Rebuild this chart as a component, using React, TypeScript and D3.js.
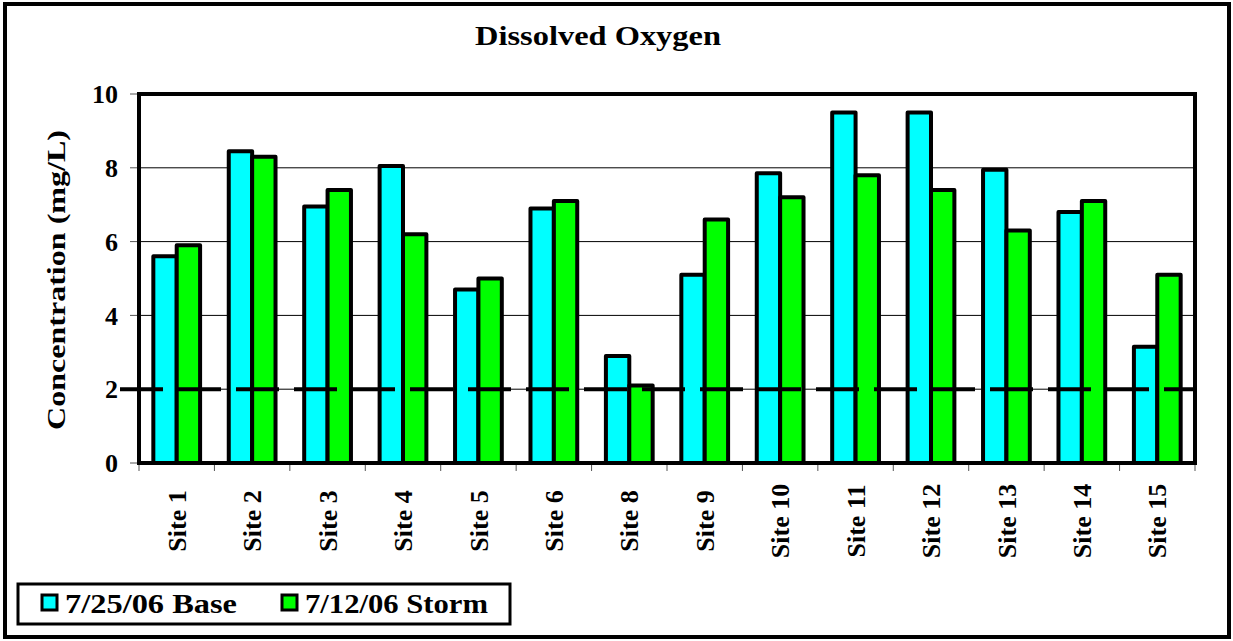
import * as d3 from "d3";
import { useRef, useEffect } from "react";

const sites = ["Site 1", "Site 2", "Site 3", "Site 4", "Site 5", "Site 6", "Site 8", "Site 9", "Site 10", "Site 11", "Site 12", "Site 13", "Site 14", "Site 15"];
const baseValues = [5.6, 8.45, 6.95, 8.05, 4.7, 6.9, 2.9, 5.1, 7.85, 9.5, 9.5, 7.95, 6.8, 3.15];
const stormValues = [5.9, 8.3, 7.4, 6.2, 5.0, 7.1, 2.1, 6.6, 7.2, 7.8, 7.4, 6.3, 7.1, 5.1];
const seriesNames = ["7/25/06 Base", "7/12/06 Storm"];
const seriesColors = ["#00ffff", "#00ff00"];
const yTicks = [0, 2, 4, 6, 8, 10];
const standard = 2;

const W = 1233;
const H = 641;

const App = () => {
    const chartRef = useRef(null);

    useEffect(() => {
        const svg = d3.select(chartRef.current);
        svg.selectAll("*").remove();

        const margin = { top: 94, bottom: 178, left: 139, right: 38 };
        const boundWidth = W - margin.left - margin.right;
        const boundHeight = H - margin.top - margin.bottom;

        // outer frame
        svg.append("rect")
           .attr("x", 5).attr("y", 4)
           .attr("width", W - 9).attr("height", H - 8)
           .attr("fill", "white")
           .attr("stroke", "black")
           .attr("stroke-width", 4);

        svg.append("text")
           .attr("x", 598).attr("y", 45)
           .attr("text-anchor", "middle")
           .attr("font-weight", "bold")
           .attr("font-size", 27)
           .attr("textLength", 246)
           .attr("lengthAdjust", "spacingAndGlyphs")
           .text("Dissolved Oxygen");

        const scaleX = d3.scaleBand()
                         .domain(sites)
                         .range([0, boundWidth]);
        const scaleY = d3.scaleLinear()
                         .domain([0, 10])
                         .range([boundHeight, 0]);

        const g = svg.append("g")
                     .attr("transform", `translate(${margin.left}, ${margin.top})`);

        // gridlines
        g.selectAll(".grid")
         .data(yTicks.filter(t => t > 0 && t < 10))
         .enter()
         .append("line")
         .attr("x1", 0).attr("x2", boundWidth)
         .attr("y1", d => scaleY(d)).attr("y2", d => scaleY(d))
         .attr("stroke", "black")
         .attr("stroke-width", 1);

        // y ticks and labels
        g.selectAll(".ytick")
         .data(yTicks)
         .enter()
         .append("line")
         .attr("x1", -9).attr("x2", 0)
         .attr("y1", d => scaleY(d)).attr("y2", d => scaleY(d))
         .attr("stroke", "#555")
         .attr("stroke-width", 1);
        g.selectAll(".ylabel")
         .data(yTicks)
         .enter()
         .append("text")
         .attr("x", -21)
         .attr("y", d => scaleY(d))
         .attr("dy", "0.35em")
         .attr("text-anchor", "end")
         .attr("font-weight", "bold")
         .attr("font-size", 26)
         .text(d => d);

        // x ticks
        g.selectAll(".xtick")
         .data(d3.range(sites.length + 1))
         .enter()
         .append("line")
         .attr("x1", d => d * scaleX.step()).attr("x2", d => d * scaleX.step())
         .attr("y1", boundHeight).attr("y2", boundHeight + 8)
         .attr("stroke", "#555")
         .attr("stroke-width", 1);

        // bars
        const barWidth = scaleX.bandwidth() * 0.31;
        [baseValues, stormValues].forEach((vals, i) => {
            g.selectAll(`.bar-${i}`)
             .data(vals)
             .enter()
             .append("rect")
             .attr("x", (d, j) => scaleX(sites[j]) + scaleX.bandwidth() / 2 - barWidth + i * barWidth)
             .attr("y", d => scaleY(d))
             .attr("width", barWidth)
             .attr("height", d => boundHeight - scaleY(d))
             .attr("fill", seriesColors[i])
             .attr("stroke", "black")
             .attr("stroke-width", 4)
             .attr("stroke-linejoin", "round");
        });

        // standard line
        g.append("line")
         .attr("x1", -19).attr("x2", boundWidth)
         .attr("y1", scaleY(standard)).attr("y2", scaleY(standard))
         .attr("stroke", "black")
         .attr("stroke-width", 4)
         .attr("stroke-dasharray", "43,15");

        // plot frame
        g.append("rect")
         .attr("x", 0).attr("y", 0)
         .attr("width", boundWidth).attr("height", boundHeight)
         .attr("fill", "none")
         .attr("stroke", "black")
         .attr("stroke-width", 4);

        // x labels
        g.selectAll(".xlabel")
         .data(sites)
         .enter()
         .append("text")
         .attr("transform", d => `translate(${scaleX(d) + scaleX.bandwidth() / 2}, ${boundHeight + 58}) rotate(-90)`)
         .attr("dy", "0.35em")
         .attr("text-anchor", "middle")
         .attr("font-weight", "bold")
         .attr("font-size", 26)
         .text(d => d);

        // y axis title
        svg.append("text")
           .attr("transform", `translate(56, ${margin.top + 186}) rotate(-90)`)
           .attr("dy", "0.35em")
           .attr("text-anchor", "middle")
           .attr("font-weight", "bold")
           .attr("font-size", 26)
           .attr("textLength", 300)
           .attr("lengthAdjust", "spacingAndGlyphs")
           .text("Concentration (mg/L)");

        // legend
        const legend = svg.append("g");
        legend.append("rect")
              .attr("x", 18).attr("y", 584)
              .attr("width", 492).attr("height", 40)
              .attr("fill", "white")
              .attr("stroke", "black")
              .attr("stroke-width", 3);
        const legendX = [42, 282];
        const legendLen = [172, 183];
        seriesNames.forEach((name, i) => {
            legend.append("rect")
                  .attr("x", legendX[i]).attr("y", 595)
                  .attr("width", 15).attr("height", 15)
                  .attr("fill", seriesColors[i])
                  .attr("stroke", "black")
                  .attr("stroke-width", 3);
            legend.append("text")
                  .attr("x", legendX[i] + 23).attr("y", 613)
                  .attr("font-weight", "bold")
                  .attr("font-size", 27)
                  .attr("textLength", legendLen[i])
                  .attr("lengthAdjust", "spacingAndGlyphs")
                  .text(name);
        });
    }, []);

    return (
        <svg ref={chartRef} width={W} height={H}
             fontFamily="'Liberation Serif', 'Times New Roman', serif"
             style={{ position: "absolute", left: 0, top: 0 }}></svg>
    );
};

export default App;
